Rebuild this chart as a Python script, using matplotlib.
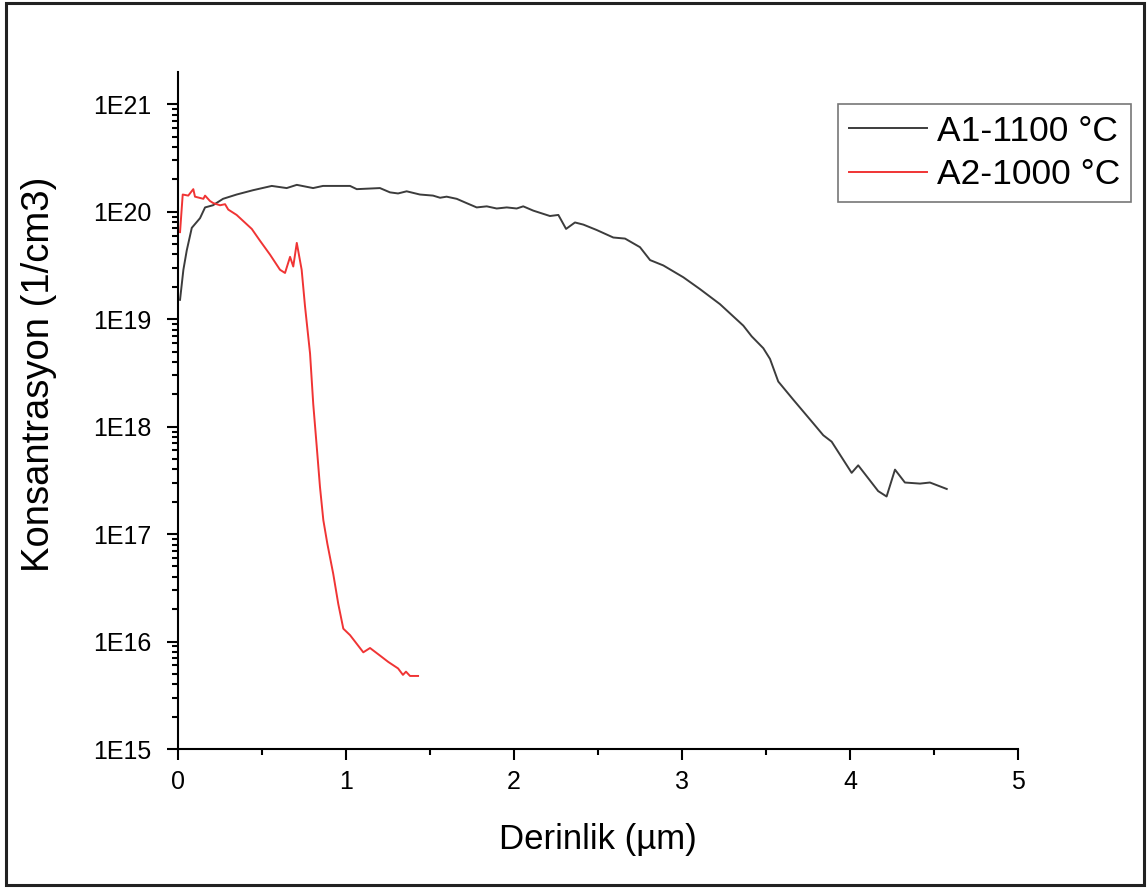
import matplotlib
matplotlib.use("Agg")
import matplotlib.pyplot as plt
from matplotlib.ticker import LogLocator, MultipleLocator, FuncFormatter, NullFormatter
from matplotlib.patches import Rectangle
import numpy as np

plt.rcParams['font.family'] = ['Liberation Sans', 'DejaVu Sans']

# Depth profiles: depth in micrometres, concentration as log10(1/cm3)
a1_depth = [0.012, 0.032, 0.052, 0.082, 0.131, 0.161, 0.208, 0.268, 0.349, 0.446,
            0.558, 0.647, 0.707, 0.804, 0.863, 1.024, 1.064, 1.202, 1.262, 1.310,
            1.361, 1.440, 1.518, 1.560, 1.599, 1.659, 1.718, 1.778, 1.838, 1.897,
            1.957, 2.016, 2.055, 2.115, 2.214, 2.264, 2.310, 2.363, 2.413, 2.492,
            2.591, 2.661, 2.750, 2.810, 2.889, 3.008, 3.107, 3.226, 3.365, 3.415,
            3.484, 3.524, 3.573, 3.663, 3.782, 3.841, 3.891, 4.010, 4.049, 4.168,
            4.218, 4.268, 4.327, 4.417, 4.476, 4.576]
a1_logc = [19.18, 19.46, 19.64, 19.85, 19.94, 20.04, 20.06, 20.12, 20.16, 20.20,
           20.24, 20.22, 20.25, 20.22, 20.24, 20.24, 20.21, 20.22, 20.18, 20.17,
           20.19, 20.16, 20.15, 20.13, 20.14, 20.12, 20.08, 20.04, 20.05, 20.03,
           20.04, 20.03, 20.05, 20.01, 19.96, 19.97, 19.84, 19.90, 19.88, 19.83,
           19.76, 19.75, 19.67, 19.55, 19.50, 19.39, 19.28, 19.14, 18.94, 18.84,
           18.73, 18.63, 18.42, 18.25, 18.03, 17.92, 17.86, 17.57, 17.64, 17.40,
           17.35, 17.60, 17.48, 17.47, 17.48, 17.42]

a2_depth = [0.012, 0.028, 0.061, 0.091, 0.101, 0.151, 0.161, 0.190, 0.210, 0.250,
            0.280, 0.299, 0.349, 0.439, 0.488, 0.548, 0.607, 0.637, 0.667, 0.686,
            0.707, 0.736, 0.756, 0.786, 0.805, 0.826, 0.845, 0.865, 0.889, 0.924,
            0.954, 0.984, 1.024, 1.103, 1.143, 1.202, 1.252, 1.310, 1.339, 1.357,
            1.381, 1.429]
a2_logc = [19.81, 20.16, 20.15, 20.21, 20.14, 20.12, 20.15, 20.10, 20.08, 20.06,
           20.07, 20.02, 19.97, 19.84, 19.73, 19.60, 19.46, 19.43, 19.58, 19.49,
           19.71, 19.46, 19.12, 18.68, 18.21, 17.81, 17.44, 17.13, 16.91, 16.63,
           16.35, 16.12, 16.06, 15.90, 15.94, 15.87, 15.81, 15.75, 15.69, 15.72,
           15.68, 15.68]

series_labels = ["A1-1100 °C", "A2-1000 °C"]
x_ticks = [0, 1, 2, 3, 4, 5]
y_decades = [15, 16, 17, 18, 19, 20, 21]

fig = plt.figure(figsize=(11.47, 8.88), dpi=100)
ax = fig.add_axes([0.1552, 0.1565, 0.7323, 0.7624])

ax.plot(a1_depth, np.power(10.0, a1_logc), color='#3c3c3c', lw=1.4, label=series_labels[0])
ax.plot(a2_depth, np.power(10.0, a2_logc), color='#f03434', lw=1.4, label=series_labels[1])

ax.set_yscale('log')
ax.set_xlim(0, 5)
ax.set_ylim(1e15, 10 ** 21.3)

ax.xaxis.set_major_locator(MultipleLocator(1))
ax.xaxis.set_minor_locator(MultipleLocator(0.5))
ax.set_xticks(x_ticks)
ax.set_xticklabels([str(t) for t in x_ticks])

ax.yaxis.set_major_locator(LogLocator(base=10, numticks=20))
ax.yaxis.set_minor_locator(LogLocator(base=10, subs=np.arange(2, 10), numticks=20))
ax.set_yticks([10.0 ** d for d in y_decades])
ax.yaxis.set_major_formatter(FuncFormatter(lambda v, p: "1E%d" % round(np.log10(v))))
ax.yaxis.set_minor_formatter(NullFormatter())

for side in ('top', 'right'):
    ax.spines[side].set_visible(False)
for side in ('left', 'bottom'):
    ax.spines[side].set_linewidth(1.5)

ax.tick_params(which='major', direction='out', length=8, width=1.5,
               labelsize=18)
ax.tick_params(axis='y', which='major', pad=11)
ax.tick_params(axis='x', which='major', pad=7)
ax.tick_params(which='minor', direction='out', length=4.5, width=1.5)

ax.set_xlabel("Derinlik (µm)", fontsize=25, labelpad=21)
ax.set_ylabel("Konsantrasyon (1/cm3)", fontsize=27.5)
ax.yaxis.set_label_coords(-0.144, 0.554)

leg = fig.legend(loc='upper left', bbox_to_anchor=(838 / 1147, 1 - 104 / 888),
                 fontsize=25.5, frameon=True, fancybox=False, handlelength=2.2,
                 handletextpad=0.3, borderpad=0.3, labelspacing=0.3,
                 borderaxespad=0)
leg.get_frame().set_edgecolor('#555555')
leg.get_frame().set_linewidth(1.2)

# Frame around the whole figure
fig.patches.append(Rectangle((6 / 1147, 3 / 888), 1138 / 1147, 882 / 888,
                             transform=fig.transFigure, fill=False,
                             edgecolor='#222222', linewidth=2.2))

fig.savefig("out.png", dpi=100)
